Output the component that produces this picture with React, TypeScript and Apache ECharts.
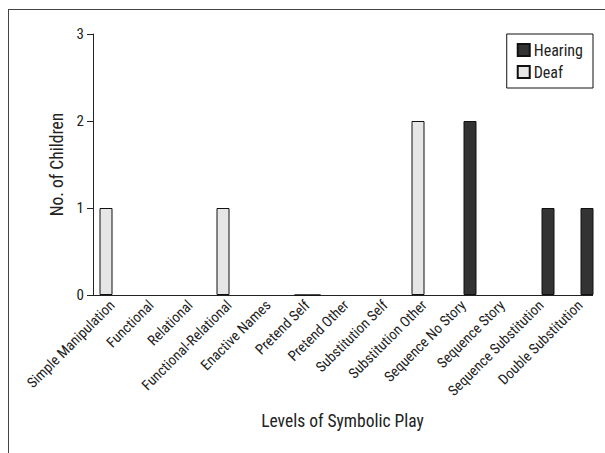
import React, { useEffect, useRef } from "react";
import * as echarts from "echarts";

const categories = [
  "Simple Manipulation",
  "Functional",
  "Relational",
  "Functional-Relational",
  "Enactive Names",
  "Pretend Self",
  "Pretend Other",
  "Substitution Self",
  "Substitution Other",
  "Sequence No Story",
  "Sequence Story",
  "Sequence Substitution",
  "Double Substitution",
];
const deafValues = [1, null, null, 1, null, 0, null, null, 2, null, null, null, null];
const hearingValues = [null, null, null, null, null, 0, null, null, null, 2, null, 1, 1];
const yTicks = [0, 1, 2, 3];

const FONT = "'Roboto Condensed', 'DejaVu Sans Condensed', 'Liberation Sans Narrow', 'Arial Narrow', Roboto, sans-serif";

export default function App() {
  const ref = useRef<HTMLDivElement>(null);
  useEffect(() => {
    if (!ref.current) return;
    const chart = echarts.init(ref.current, null, { renderer: "svg" });
    chart.setOption({
      animation: false,
      backgroundColor: "#fff",
      textStyle: { fontFamily: FONT, color: "#222" },
      grid: { left: 93, top: 34, width: 507, bottom: 158, containLabel: false },
      legend: {
        orient: "vertical",
        right: 12,
        top: 34,
        data: ["Hearing", "Deaf"],
        icon: "rect",
        itemWidth: 12,
        itemHeight: 12,
        itemGap: 6,
        padding: [8, 10, 8, 10],
        borderColor: "#111",
        borderWidth: 1,
        textStyle: { fontFamily: FONT, fontSize: 16, color: "#222", padding: [0, 0, 0, -1] },
      },
      xAxis: {
        type: "category",
        data: categories,
        name: "Levels of Symbolic Play",
        nameLocation: "middle",
        nameGap: 117,
        nameTextStyle: { fontFamily: FONT, fontSize: 17.5, color: "#222", padding: [0, 8, 0, 0] },
        axisLine: { show: false },
        axisTick: { show: false },
        axisLabel: { rotate: 45, fontSize: 14.5, color: "#222", margin: 8, interval: 0, fontFamily: FONT },
      },
      yAxis: {
        type: "value",
        min: yTicks[0],
        max: yTicks[yTicks.length - 1],
        interval: 1,
        name: "No. of Children",
        nameLocation: "middle",
        nameGap: 27,
        nameTextStyle: { fontFamily: FONT, fontSize: 17.5, color: "#222" },
        axisLine: { show: true, lineStyle: { color: "#222", width: 1 } },
        axisTick: { show: true, length: 6, lineStyle: { color: "#222" } },
        axisLabel: { fontSize: 15, color: "#222", margin: 9, fontFamily: FONT },
        splitLine: { show: false },
      },
      graphic: [
        {
          type: "line",
          shape: { x1: 93, y1: 295.5, x2: 593, y2: 295.5 },
          style: { stroke: "#222", lineWidth: 1 },
          z: 1,
        },
      ],
      series: [
        {
          name: "Deaf",
          type: "bar",
          data: deafValues,
          barWidth: 13,
          barGap: "0%",
          itemStyle: { color: "#e6e6e6", borderColor: "#111", borderWidth: 1 },
          z: 3,
        },
        {
          name: "Hearing",
          type: "bar",
          data: hearingValues,
          barWidth: 13,
          barGap: "0%",
          itemStyle: { color: "#333333", borderColor: "#111", borderWidth: 1 },
          z: 3,
        },
      ],
    });
    return () => chart.dispose();
  }, []);
  return (
    <div style={{ position: "fixed", left: 0, top: 0, width: 605, height: 453, background: "#fff" }}>
      <div ref={ref} style={{ position: "absolute", left: 0, top: 0, width: 605, height: 453 }} />
      <div
        style={{
          position: "absolute",
          left: 8,
          top: 9,
          width: 600,
          height: 450,
          borderTop: "1px solid #444",
          borderLeft: "1px solid #444",
          pointerEvents: "none",
        }}
      />
    </div>
  );
}
